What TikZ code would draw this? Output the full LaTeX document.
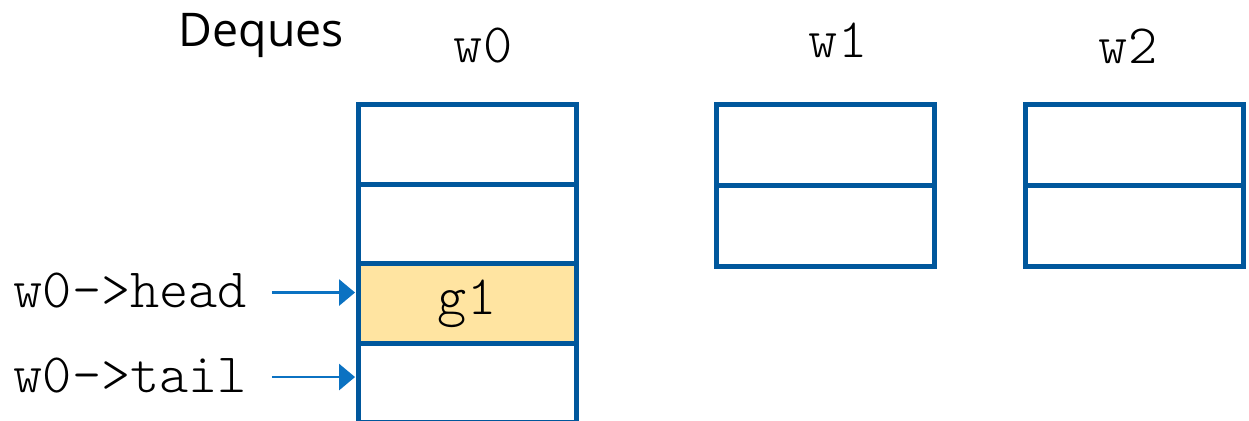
\documentclass[tikz,border=0pt]{standalone}
\usepackage{fontspec}
\setsansfont{Open Sans}
\setmonofont{Latin Modern Mono Light}
\usetikzlibrary{matrix, positioning, arrows.meta}

\definecolor{dequeblue}{HTML}{00579C}
\definecolor{ptrblue}{HTML}{0B72C2}
\definecolor{slotyellow}{HTML}{FFE4A1}

\tikzset{
  deque/.style={matrix of nodes, nodes in empty cells,
    inner sep=0, outer sep=0, row sep=-1.45pt, anchor=north west,
    nodes={draw=dequeblue, line width=1.45pt, outer sep=0, inner sep=0,
      minimum width=2.18cm, font=\ttfamily\fontsize{15.8}{18}\selectfont}},
  mono/.style={font=\ttfamily\fontsize{15.8}{18}\selectfont, inner sep=0},
  ptr/.style={-{Triangle[length=0.16cm, width=0.26cm]}, draw=ptrblue,
    fill=ptrblue, line width=0.8pt}
}

\begin{document}
\begin{tikzpicture}[x=0.01cm, y=-0.01cm]
\useasboundingbox (0,0) rectangle (1249,420);

\node[anchor=base west, inner sep=0, font=\sffamily\fontsize{13.2}{15}\selectfont] (title) at (178,46) {Deques};

% worker deques
\matrix (w0) [deque, nodes={minimum height=0.795cm},
row 3/.style={nodes={fill=slotyellow}}] at (355.5,102) {
\\
\\
g1 \\
\\
};

\matrix (w1) [deque, nodes={minimum height=0.81cm},
right=1.35cm of w0.north east, anchor=north west] {
\\
\\
};

\matrix (w2) [deque, nodes={minimum height=0.81cm},
right=0.86cm of w1.north east, anchor=north west] {
\\
\\
};

\node[mono, anchor=base] (w0name) at (483,62) {w0};
\node[mono, anchor=base] (w1name) at (838,57) {w1};
\node[mono, anchor=base] (w2name) at (1128,63) {w2};

% head and tail pointers
\node[mono, anchor=base west] (head) at (13,307) {w0->head};
\node[mono, anchor=base west] (tail) at (13,392) {w0->tail};

\draw[ptr, shorten <=0.24cm, shorten >=0.03cm] ([yshift=-0.025cm]head.east) -- ([yshift=-0.025cm]head.east -| w0-3-1.west);
\draw[ptr, shorten <=0.24cm, shorten >=0.03cm] ([yshift=-0.02cm]tail.east) -- ([yshift=-0.02cm]tail.east -| w0-4-1.west);

\end{tikzpicture}
\end{document}
